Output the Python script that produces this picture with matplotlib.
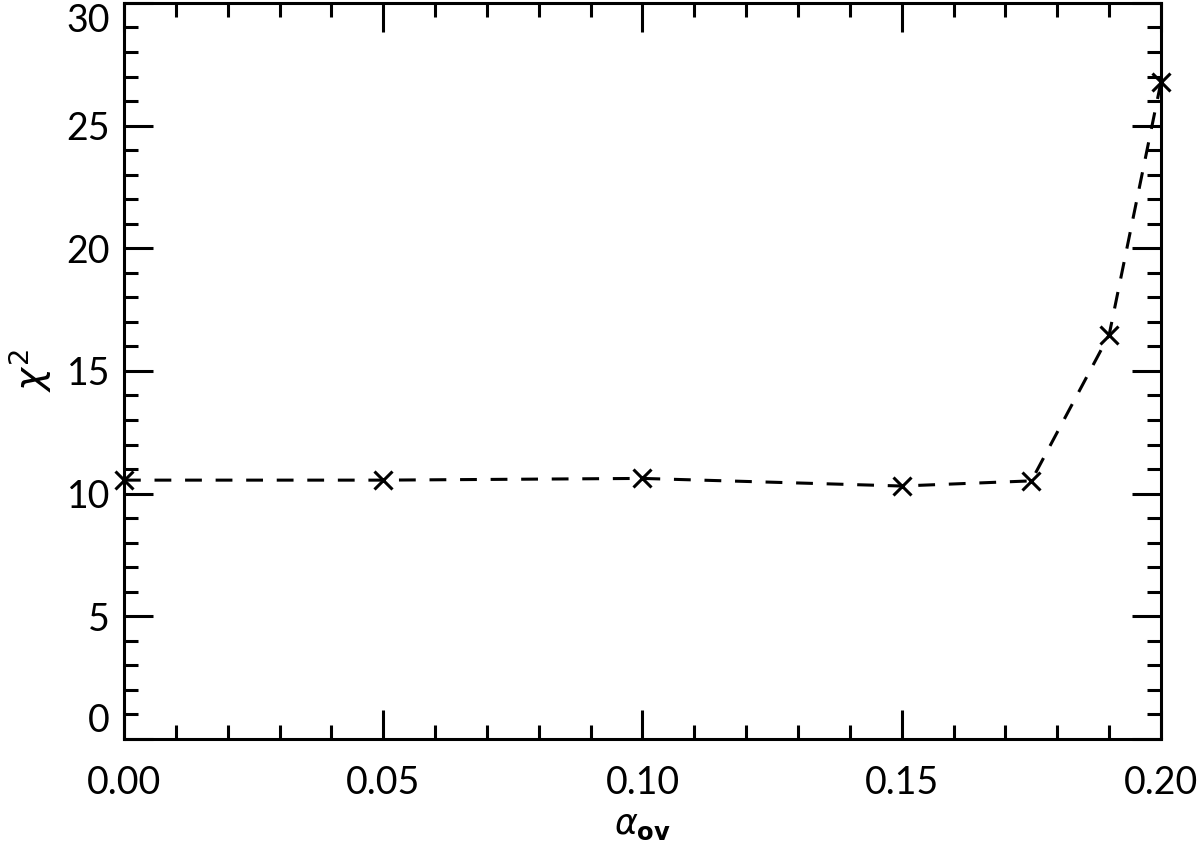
import matplotlib
matplotlib.use('Agg')
import matplotlib.pyplot as plt
from matplotlib.ticker import MultipleLocator

# chi^2 vs overshoot parameter
alpha_ov = [0.0, 0.05, 0.10, 0.15, 0.175, 0.19, 0.20]
chi2 = [10.55, 10.55, 10.62, 10.31, 10.52, 16.47, 26.78]
yticks = [0, 5, 10, 15, 20, 25, 30]

plt.rcParams['font.family'] = ['Lato', 'DejaVu Sans']

fig = plt.figure(figsize=(12, 8.5), dpi=100)
ax = fig.add_axes([0.1033, 0.1306, 0.8642, 0.866])

ax.plot(alpha_ov, chi2, color='black', linestyle=(0, (5.5, 4.5)), linewidth=2.2,
        marker='x', markersize=13, markeredgewidth=2.2, clip_on=False)

ax.set_xlim(0.0, 0.20)
ax.set_ylim(0, 30)
ax.xaxis.set_major_locator(MultipleLocator(0.05))
ax.xaxis.set_minor_locator(MultipleLocator(0.01))
ax.set_yticks(yticks)
ax.yaxis.set_minor_locator(MultipleLocator(1))
ax.xaxis.set_major_formatter(plt.FormatStrFormatter('%.2f'))

ax.tick_params(which='both', direction='in', top=True, right=True,
               labelsize=27, width=2.2)
ax.tick_params(axis='x', pad=19)
ax.tick_params(axis='y', pad=10)
ax.tick_params(which='major', length=21)
ax.tick_params(which='minor', length=10)
for s in ax.spines.values():
    s.set_linewidth(2.2)

# keep end labels inside the axis range, like the original
yt = ax.yaxis.get_major_ticks()
yt[0].label1.set_va('bottom')
yt[-1].label1.set_va('top')

ax.set_xlabel(r'$\alpha_{\mathbf{ov}}$', fontsize=25, va='center')
ax.xaxis.set_label_coords(0.5, -(826 - 739) / 736)
ax.set_ylabel(r'$\chi^2$', fontsize=28, va='center')
ax.yaxis.set_label_coords((30 - 124) / 1037, 0.5)

fig.savefig('out.png', dpi=100)
